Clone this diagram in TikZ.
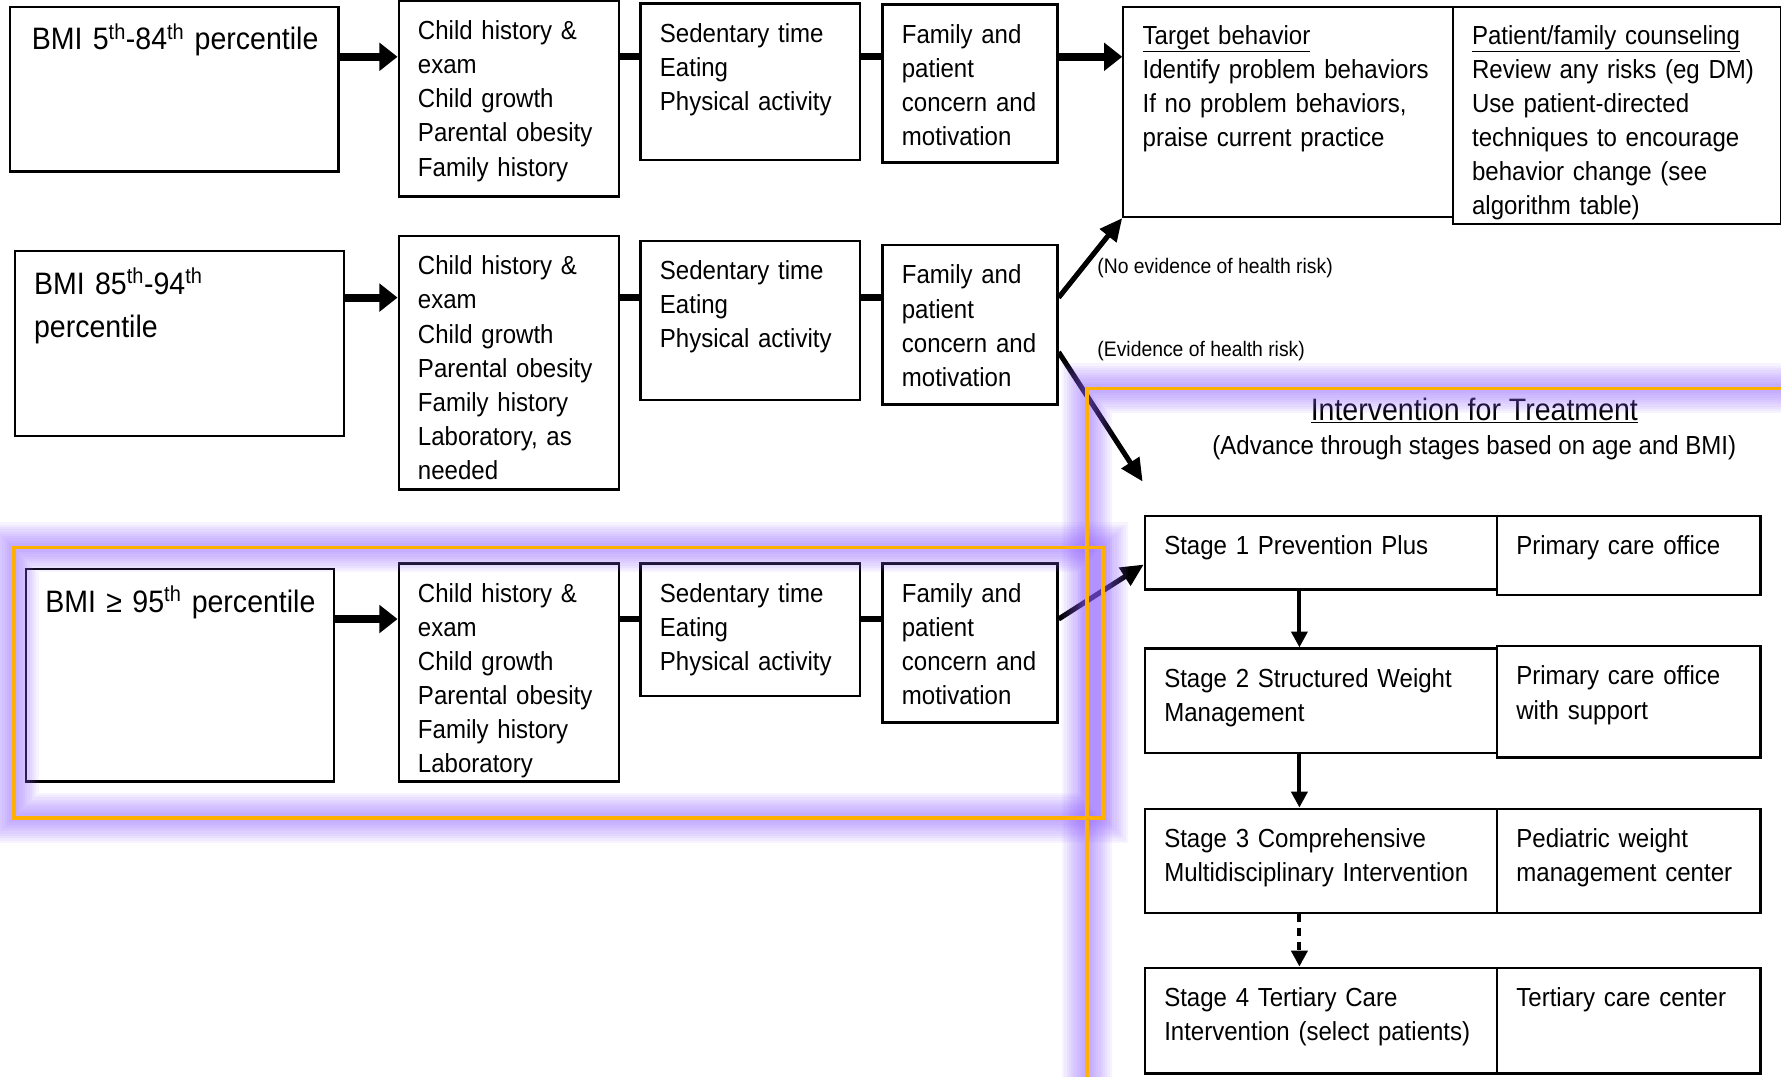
\documentclass[tikz,border=0pt]{standalone}
\usepackage{fontspec}
\setmainfont{Liberation Sans}[FakeStretch=0.92]
\usepackage{xcolor}
\usepackage{tikz}
\usetikzlibrary{arrows.meta}

\definecolor{hlorange}{HTML}{FFB000}
\definecolor{hlglow}{HTML}{8C5CFF}

\newcommand{\txtfont}{\fontsize{23}{30}\selectfont}
\newcommand{\bmifont}{\fontsize{27.3}{38}\selectfont}
\newcommand{\lblfont}{\fontsize{18.5}{22}\selectfont}

\tikzset{
  bx/.style n args={3}{draw, line width=2pt, anchor=north west, inner xsep=17pt, inner ysep=0pt,
    align=left, text width=#1pt-34pt, text height=#3pt, text depth=#2pt-#3pt},
  fat/.style={line width=7pt, -{Triangle[length=16pt,width=24pt]}},
  link/.style={line width=6pt},
  diag/.style={line width=4.5pt, -{Triangle[length=20pt,width=18pt]}},
  down/.style={line width=3.5pt, -{Triangle[length=14pt,width=14pt]}},
  glow/.style={hlglow, line width=#1pt, opacity=0.065},
  hl/.style={hlorange, line width=3.4pt},
}

\begin{document}
\begin{tikzpicture}[x=1pt, y=-1pt, font=\txtfont]
\useasboundingbox (0,0) rectangle (1568,948);
\clip (0,0) rectangle (1568,948);

\coordinate (r1) at (0,50);
\coordinate (r2) at (0,262);
\coordinate (r3) at (0,545);
\coordinate (tip) at (1006,424);

\node[bx={289}{145}{38}, font=\bmifont] (bmiA) at (8,5) {\mbox{\hspace{2pt}BMI 5\textsuperscript{th}-84\textsuperscript{th} percentile}};
\node[bx={194}{172}{34}] (chA) at (350,0) {Child history \&\\exam\\Child growth\\Parental obesity\\Family history};
\node[bx={193}{138}{34}] (sedA) at (563,2) {Sedentary time\\Eating\\Physical activity};
\node[bx={154}{139}{34}] (famA) at (776,3) {Family and\\patient\\concern and\\motivation};
\node[bx={290}{185}{33}] (tgt) at (988,5) {\underline{Target behavior}\\Identify problem behaviors\\If no problem behaviors,\\praise current practice};
\node[bx={289}{191}{33}] (cns) at (1278,5) {\underline{Patient/family counseling}\\Review any risks (eg DM)\\Use patient-directed\\techniques to encourage\\behavior change (see\\algorithm table)};

\node[bx={290}{163}{38}, font=\bmifont] (bmiB) at (12,220) {BMI 85\textsuperscript{th}-94\textsuperscript{th}\\percentile};
\node[bx={194}{223}{34}] (chB) at (350,207) {Child history \&\\exam\\Child growth\\Parental obesity\\Family history\\Laboratory, as\\needed};
\node[bx={193}{140}{34}] (sedB) at (563,211) {Sedentary time\\Eating\\Physical activity};
\node[bx={154}{140}{34}] (famB) at (776,215) {Family and\\patient\\concern and\\motivation};

\node[bx={271}{187}{38}, font=\bmifont] (bmiC) at (22,500) {\mbox{BMI ≥ 95\textsuperscript{th} percentile}};
\node[bx={194}{192}{34}] (chC) at (350,495) {Child history \&\\exam\\Child growth\\Parental obesity\\Family history\\Laboratory};
\node[bx={193}{117}{34}] (sedC) at (563,495) {Sedentary time\\Eating\\Physical activity};
\node[bx={154}{140}{34}] (famC) at (776,495) {Family and\\patient\\concern and\\motivation};

\node[font=\bmifont, anchor=base] (ttl) at (1298,370) {\underline{Intervention for Treatment}};
\node[anchor=base] (sub) at (1298,400) {(Advance through stages based on age and BMI)};
\node[font=\lblfont, anchor=base west, inner sep=0pt] (noRisk) at (966,241) {(No evidence of health risk)};
\node[font=\lblfont, anchor=base west, inner sep=0pt] (risk) at (966,314) {(Evidence of health risk)};

\node[bx={310}{65}{34}] (s1) at (1007,453) {Stage 1 Prevention Plus};
\node[bx={232}{70}{34}] (p1) at (1317,453) {Primary care office};
\node[bx={310}{92}{34}] (s2) at (1007,570) {Stage 2 Structured Weight\\Management};
\node[bx={232}{98}{34}] (p2) at (1317,568) {Primary care office\\with support};
\node[bx={310}{92}{34}] (s3) at (1007,711) {Stage 3 Comprehensive\\Multidisciplinary Intervention};
\node[bx={232}{92}{34}] (p3) at (1317,711) {Pediatric weight\\management center};
\node[bx={310}{93}{34}] (s4) at (1007,851) {Stage 4 Tertiary Care\\Intervention (select patients)};
\node[bx={232}{93}{34}] (p4) at (1317,851) {Tertiary care center};

\draw[fat] (bmiA.east |- r1) -- (chA.west |- r1);
\draw[link] (chA.east |- r1) -- (sedA.west |- r1);
\draw[link] (sedA.east |- r1) -- (famA.west |- r1);
\draw[fat] (famA.east |- r1) -- (tgt.west |- r1);

\draw[fat] (bmiB.east |- r2) -- (chB.west |- r2);
\draw[link] (chB.east |- r2) -- (sedB.west |- r2);
\draw[link] (sedB.east |- r2) -- (famB.west |- r2);
\draw[diag] (famB.east |- r2) -- (tgt.south west);
\draw[diag] ([yshift=-95pt]famB.north east) -- (tip);

\draw[fat] (bmiC.east |- r3) -- (chC.west |- r3);
\draw[link] (chC.east |- r3) -- (sedC.west |- r3);
\draw[link] (sedC.east |- r3) -- (famC.west |- r3);
\draw[diag] (famC.east |- r3) -- ([yshift=-44pt]s1.north west);

\draw[down] ([xshift=-19pt]s1.south) -- ([xshift=-19pt]s2.north);
\draw[down] ([xshift=-19pt]s2.south) -- ([xshift=-19pt]s3.north);
\draw[down, dash pattern=on 7pt off 5pt] ([xshift=-19pt]s3.south) -- ([xshift=-19pt]s4.north);

\foreach \w in {44,40,36,32,28,24,20,16,12,8} {
  \draw[glow=\w] (12,482) rectangle (971,720);
  \draw[glow=\w] (957,342) rectangle (1620,1000);
}
\draw[hl] (12,482) rectangle (971,720);
\draw[hl] (957,342) rectangle (1620,1000);
\end{tikzpicture}
\end{document}
